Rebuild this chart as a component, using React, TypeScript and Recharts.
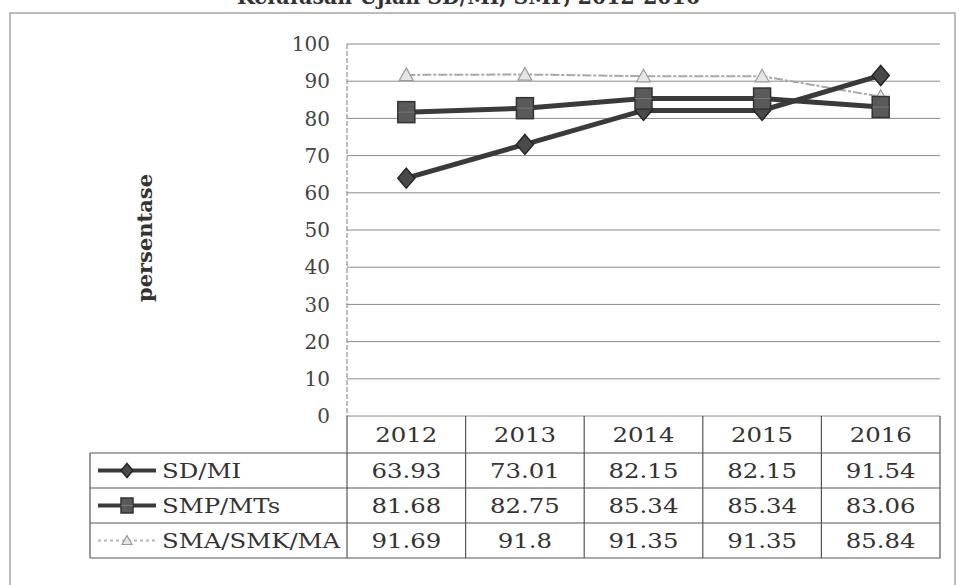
import { LineChart, Line, XAxis, YAxis, CartesianGrid } from "recharts";

const YEARS = ["2012", "2013", "2014", "2015", "2016"];
const SD_MI = [63.93, 73.01, 82.15, 82.15, 91.54];
const SMP_MTS = [81.68, 82.75, 85.34, 85.34, 83.06];
const SMA_SMK_MA = [91.69, 91.8, 91.35, 91.35, 85.84];
const Y_TICKS = [0, 10, 20, 30, 40, 50, 60, 70, 80, 90, 100];

const SERIES = [
  { key: "sd", name: "SD/MI", values: SD_MI },
  { key: "smp", name: "SMP/MTs", values: SMP_MTS },
  { key: "sma", name: "SMA/SMK/MA", values: SMA_SMK_MA },
];

const W = 959;
const H = 585;
const PLOT_LEFT = 347;
const PLOT_RIGHT = 940;
const PLOT_TOP = 44;
const PLOT_BOTTOM = 416;
const COL_W = (PLOT_RIGHT - PLOT_LEFT) / YEARS.length;
const TABLE_LEFT = 90;
const HEAD_H = 37;
const ROW_H = 35;

const SERIF = "'DejaVu Serif', 'Liberation Serif', serif";
const INK = "#3a3a3a";

const data = YEARS.map((year, i) => ({
  year,
  sd: SD_MI[i],
  smp: SMP_MTS[i],
  sma: SMA_SMK_MA[i],
}));

// markers, drawn around the point the library gives
function Diamond({ cx, cy, r = 10 }: { cx: number; cy: number; r?: number }) {
  return (
    <path
      d={`M${cx},${cy - r}L${cx + r * 0.85},${cy}L${cx},${cy + r}L${cx - r * 0.85},${cy}Z`}
      fill="#4a4a4a"
      stroke="#262626"
      strokeWidth={1.5}
    />
  );
}

function Block({ cx, cy, w = 17, h = 21 }: { cx: number; cy: number; w?: number; h?: number }) {
  return (
    <g>
      <rect x={cx - w / 2} y={cy - h / 2} width={w} height={h} fill="#5a5a5a" stroke="#333" strokeWidth={1.5} />
      <line x1={cx - w / 2} x2={cx + w / 2} y1={cy} y2={cy} stroke="#777" strokeWidth={1} />
    </g>
  );
}

function Tri({ cx, cy, r = 7 }: { cx: number; cy: number; r?: number }) {
  return (
    <path
      d={`M${cx},${cy - r}L${cx + r},${cy + r * 0.8}L${cx - r},${cy + r * 0.8}Z`}
      fill="#e6e6e6"
      stroke="#9a9a9a"
      strokeWidth={1.2}
    />
  );
}

// eslint-disable-next-line @typescript-eslint/no-explicit-any
type Any = any;

function Stretch({ x, y, children, anchor = "middle" }: { x: number; y: number; children: React.ReactNode; anchor?: "middle" | "start" }) {
  return (
    <text
      transform={`translate(${x},${y}) scale(1.22,1)`}
      textAnchor={anchor}
      fontFamily={SERIF}
      fontSize={20}
      fill="#333"
    >
      {children}
    </text>
  );
}

function LegendKey({ k, y }: { k: string; y: number }) {
  const x1 = 98, x2 = 156, cx = 127;
  if (k === "sd")
    return (
      <g>
        <line x1={x1} x2={x2} y1={y} y2={y} stroke={INK} strokeWidth={4} />
        <Diamond cx={cx} cy={y} r={7} />
      </g>
    );
  if (k === "smp")
    return (
      <g>
        <line x1={x1} x2={x2} y1={y} y2={y} stroke={INK} strokeWidth={4} />
        <Block cx={cx} cy={y} w={12} h={15} />
      </g>
    );
  return (
    <g>
      <line x1={x1} x2={x2} y1={y} y2={y} stroke="#b5b5b5" strokeWidth={2} strokeDasharray="3 3" />
      <Tri cx={cx} cy={y} r={5} />
    </g>
  );
}

function Overlay() {
  const tableBottom = PLOT_BOTTOM + HEAD_H + ROW_H * SERIES.length;
  const border = "#555";
  return (
    <svg width={W} height={H} style={{ position: "absolute", left: 0, top: 0, pointerEvents: "none" }}>
      {/* title, cut off by the top of the scan */}
      <text x={237} y={4} fontFamily={SERIF} fontWeight="bold" fontSize={22} fill="#333" textLength={463} lengthAdjust="spacingAndGlyphs">
        Kelulusan Ujian SD/MI, SMP, 2012-2016
      </text>
      {/* outer frame */}
      <rect x={10} y={13} width={945} height={620} fill="none" stroke="#7a7a7a" strokeWidth={1} />
      {/* axis title */}
      <text
        transform="translate(152,238) rotate(-90)"
        textAnchor="middle"
        fontFamily={SERIF}
        fontWeight="bold"
        fontSize={21}
        fill="#333"
      >
        persentase
      </text>

      {/* data table */}
      <g stroke={border} strokeWidth={1.2}>
        <line x1={TABLE_LEFT} x2={PLOT_RIGHT} y1={PLOT_BOTTOM + HEAD_H} y2={PLOT_BOTTOM + HEAD_H} />
        {SERIES.map((s, i) => {
          const y = PLOT_BOTTOM + HEAD_H + ROW_H * (i + 1);
          return <line key={s.key} x1={TABLE_LEFT} x2={PLOT_RIGHT} y1={y} y2={y} />;
        })}
        <line x1={TABLE_LEFT} x2={TABLE_LEFT} y1={PLOT_BOTTOM + HEAD_H} y2={tableBottom} />
        {YEARS.map((y, i) => {
          const x = PLOT_LEFT + COL_W * (i + 1);
          return <line key={y} x1={x} x2={x} y1={PLOT_BOTTOM} y2={tableBottom} />;
        })}
        <line x1={PLOT_LEFT} x2={PLOT_LEFT} y1={PLOT_BOTTOM} y2={tableBottom} />
      </g>
      {YEARS.map((y, i) => (
        <Stretch key={y} x={PLOT_LEFT + COL_W * (i + 0.5)} y={PLOT_BOTTOM + HEAD_H / 2 + 7}>
          {y}
        </Stretch>
      ))}
      {SERIES.map((s, r) => {
        const cy = PLOT_BOTTOM + HEAD_H + ROW_H * r + ROW_H / 2;
        return (
          <g key={s.key}>
            <LegendKey k={s.key} y={cy} />
            <Stretch x={162} y={cy + 7} anchor="start">
              {s.name}
            </Stretch>
            {s.values.map((v, i) => (
              <Stretch key={i} x={PLOT_LEFT + COL_W * (i + 0.5)} y={cy + 7}>
                {String(v)}
              </Stretch>
            ))}
          </g>
        );
      })}
    </svg>
  );
}

export default function App() {
  return (
    <div style={{ position: "absolute", left: 0, top: 0, width: W, height: H, overflow: "hidden", background: "#fff" }}>
      <LineChart
        width={W}
        height={H}
        data={data}
        margin={{ top: PLOT_TOP, right: W - PLOT_RIGHT, left: PLOT_LEFT - 60, bottom: H - PLOT_BOTTOM }}
      >
        <CartesianGrid vertical={false} stroke="#8a8a8a" strokeWidth={1} />
        <XAxis dataKey="year" hide height={0} padding={{ left: COL_W / 2, right: COL_W / 2 }} />
        <YAxis
          width={60}
          domain={[0, 100]}
          ticks={Y_TICKS}
          interval={0}
          tickLine={false}
          tickMargin={11}
          axisLine={{ stroke: "#7a7a7a", strokeDasharray: "5 2" }}
          tick={{ fontFamily: SERIF, fontSize: 20, fill: "#444" }}
        />
        <Line
          dataKey="sma"
          stroke="#a8a8a8"
          strokeWidth={2}
          strokeDasharray="9 2 3 2"
          dot={(p: Any) => <Tri key={`t${p.index}`} cx={p.cx} cy={p.cy} />}
          isAnimationActive={false}
        />
        <Line
          dataKey="sd"
          stroke={INK}
          strokeWidth={5}
          dot={(p: Any) => <Diamond key={`d${p.index}`} cx={p.cx} cy={p.cy} />}
          isAnimationActive={false}
        />
        <Line
          dataKey="smp"
          stroke={INK}
          strokeWidth={5}
          dot={(p: Any) => <Block key={`b${p.index}`} cx={p.cx} cy={p.cy} />}
          isAnimationActive={false}
        />
      </LineChart>
      <Overlay />
    </div>
  );
}
